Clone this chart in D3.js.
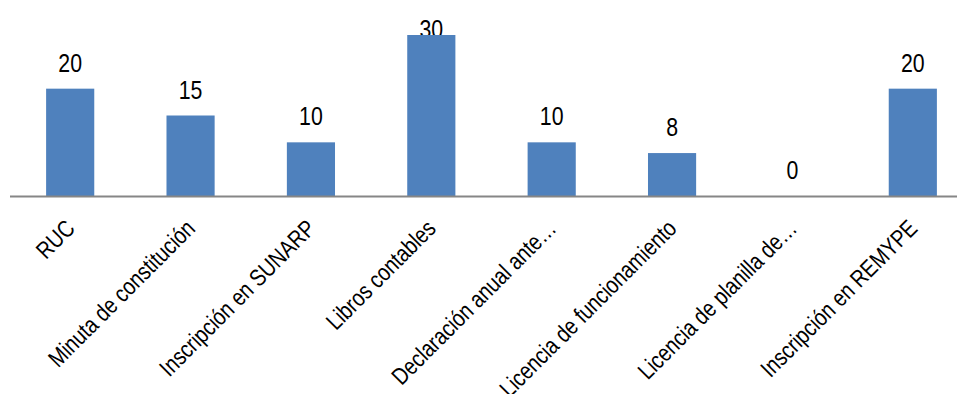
<!DOCTYPE html>
<html>
<head>
<meta charset="utf-8">
<script src="https://cdn.jsdelivr.net/npm/d3@7"></script>
<style>
  body { margin: 0; background: #fff; }
  text { font-family: "Liberation Sans Narrow", "Arial Narrow", "Liberation Sans", sans-serif; fill: #000; }
</style>
</head>
<body>
<div id="chart"></div>
<script>
// data
var categories = ["RUC", "Minuta de constitución", "Inscripción en SUNARP", "Libros contables",
    "Declaración anual ante…", "Licencia de funcionamiento", "Licencia de planilla de…", "Inscripción en REMYPE"];
var values = [20, 15, 10, 30, 10, 8, 0, 20];

var width = 957;
var height = 394;
var baseY = 196;
var narrow = 0.82; // no narrow font installed, squeeze Liberation Sans instead

var svg = d3.select("#chart")
    .append("svg")
    .attr("width", width)
    .attr("height", height);

var x = d3.scaleBand()
    .domain(categories)
    .range([10, 973])
    .paddingInner(0.6)
    .paddingOuter(0.3);

var y = d3.scaleLinear()
    .domain([0, 30])
    .range([baseY, 35]);

// value labels (drawn under the bars, the top one gets clamped like in excel)
svg.append("g").selectAll("text")
    .data(values)
    .enter()
    .append("text")
    .attr("transform", function(d, i) {
        var cx = x(categories[i]) + x.bandwidth() / 2;
        var cy = Math.max(y(d) - 17, 38);
        return "translate(" + cx + "," + cy + ") scale(" + narrow + ",1)";
    })
    .attr("text-anchor", "middle")
    .style("font-size", "26px")
    .text(function(d) { return d; });

// bars
svg.append("g").selectAll("rect")
    .data(values)
    .enter()
    .append("rect")
    .attr("x", function(d, i) { return x(categories[i]); })
    .attr("y", function(d) { return y(d); })
    .attr("width", x.bandwidth())
    .attr("height", function(d) { return baseY - y(d); })
    .attr("fill", "#4f81bd");

// baseline
svg.append("line")
    .attr("x1", 10)
    .attr("x2", width)
    .attr("y1", baseY + 0.5)
    .attr("y2", baseY + 0.5)
    .attr("stroke", "#868686")
    .attr("stroke-width", 2);

// category labels, rotated
svg.append("g").selectAll("text")
    .data(categories)
    .enter()
    .append("text")
    .attr("transform", function(d) {
        return "translate(" + (x(d) + x.bandwidth() / 2 + 6) + "," + 230 + ") rotate(-45) scale(" + narrow + ",1)";
    })
    .attr("text-anchor", "end")
    .style("font-size", "24px")
    .text(function(d) { return d; });
</script>
</body>
</html>
